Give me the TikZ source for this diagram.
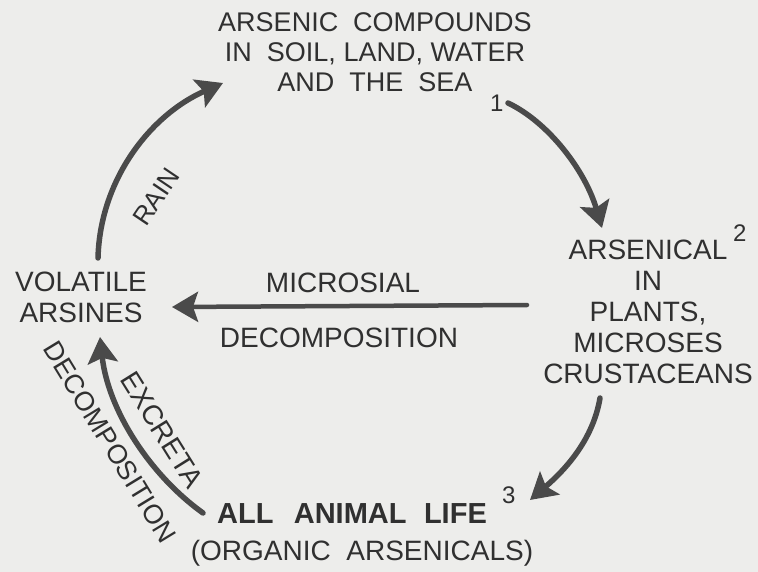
\documentclass[tikz,border=0pt]{standalone}
\usepackage{fontspec}
\setmainfont{Liberation Sans}
\usetikzlibrary{arrows.meta}
\definecolor{ink}{HTML}{303030}
\definecolor{arr}{HTML}{4A4A4A}
\definecolor{paper}{HTML}{EDEDEB}
\begin{document}
\begin{tikzpicture}[x=1pt,y=-1pt,
  lab/.style={inner sep=0pt, text=ink, font=\fontsize{28}{31}\selectfont, align=center},
  suplab/.style={inner sep=0pt, text=ink, font=\fontsize{24}{24}\selectfont},
  flow/.style={draw=arr, line width=5.5pt, line cap=round, -{Stealth[length=26pt,width=30pt,inset=5pt]}}]
\fill[paper] (0,0) rectangle (758,572);
\useasboundingbox (0,0) rectangle (758,572);

% nodes
\node[lab, anchor=north, font=\fontsize{27}{30}\selectfont] (soil) at (375,12.5)
  {ARSENIC\ \ COMPOUNDS\\IN\ \ SOIL, LAND, WATER\\AND\ \ THE\ \ SEA};
\node[suplab, anchor=base west] (s1) at (490,112) {1};

\node[lab, anchor=north] (plants) at (648,240)
  {ARSENICAL\\IN\\PLANTS,\\MICROSES\\CRUSTACEANS};
\node[suplab, anchor=base west] (s2) at (733,242) {2};

\node[lab, anchor=north] (arsines) at (81,272) {VOLATILE\\ARSINES};

\node[lab, anchor=base] (micro) at (343,293) {MICROSIAL};
\node[lab, anchor=base] (decomp) at (339,347) {DECOMPOSITION};

\node[lab, anchor=base, font=\bfseries\fontsize{29}{31}\selectfont] (animal) at (352,523)
  {ALL\hspace{0.7em}ANIMAL\hspace{0.6em}LIFE};
\node[suplab, anchor=base west] (s3) at (502,503) {3};
\node[lab, anchor=base] (organic) at (362,560) {(ORGANIC\ \ ARSENICALS)};

\node[lab, rotate=56, font=\fontsize{26}{26}\selectfont] (rain) at (156,197) {RAIN};
\node[lab, rotate=-58] (excreta) at (162,430) {EXCRETA};
\node[lab, rotate=-58.6, font=\fontsize{27}{27}\selectfont] (decomp2) at (110,442) {DECOMPOSITION};

% connector ends
\coordinate (a1s) at (508,103); \coordinate (a1e) at (602,228);
\coordinate (a2s) at (600,398); \coordinate (a2e) at (530,500);
\coordinate (a3s) at (527,305); \coordinate (a3e) at (172,307);
\coordinate (a4s) at (203,513); \coordinate (a4e) at (100,337);
\coordinate (a5s) at (98,258);  \coordinate (a5e) at (223,83);

\draw[flow] (a1s) .. controls (548,122) and (585,170) .. (a1e);
\draw[flow] (a2s) .. controls (593,440) and (565,470) .. (a2e);
\draw[flow, line width=4.5pt] (a3s) -- (a3e);
\draw[flow] (a4s) .. controls (150,475) and (108,410) .. (a4e);
\draw[flow] (a5s) .. controls (100,180) and (150,115) .. (a5e);
\end{tikzpicture}
\end{document}
